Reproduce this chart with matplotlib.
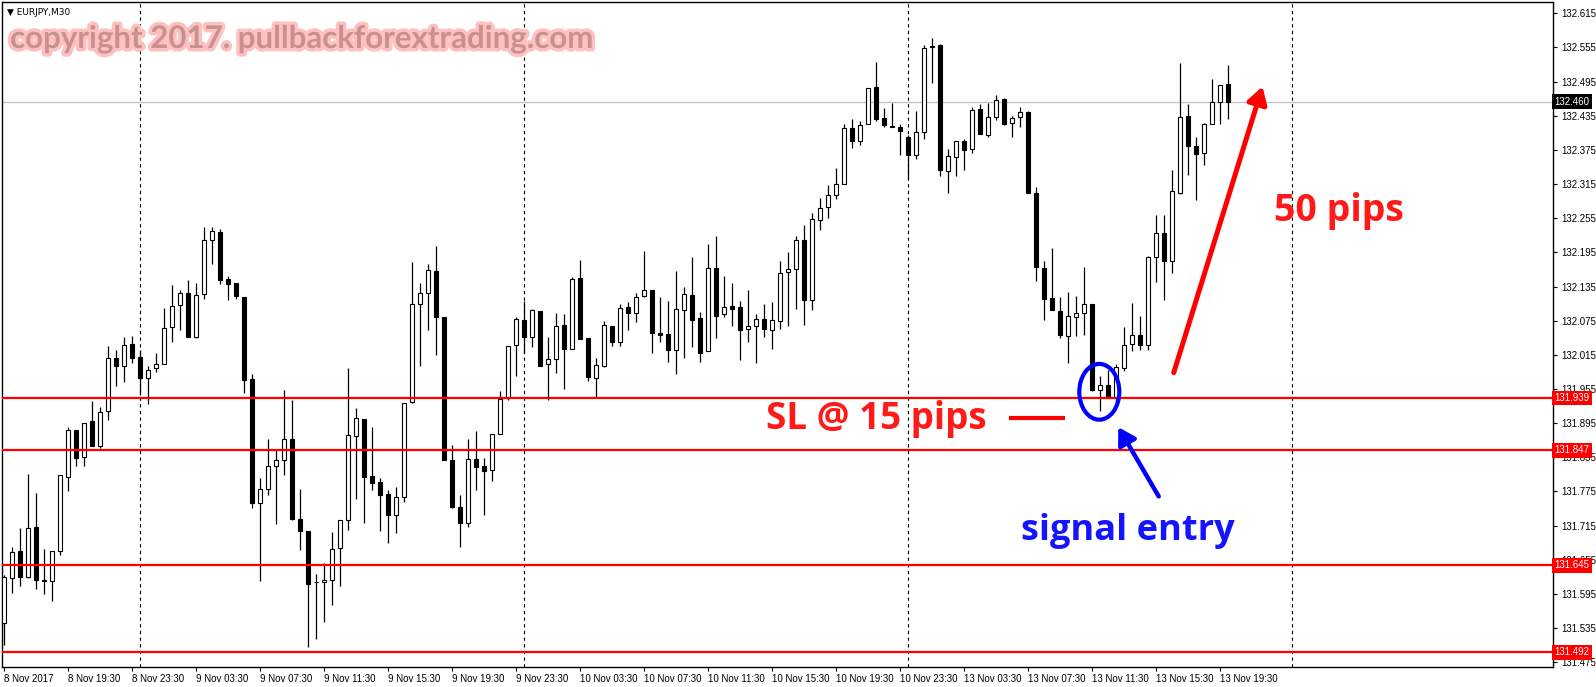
import numpy as np
import matplotlib
matplotlib.use("Agg")
import matplotlib.pyplot as plt
from matplotlib import patheffects as pe
from matplotlib.patches import Ellipse

# EURJPY M30 candles, 8 Nov 2017 15:30 -> 13 Nov 2017 20:00
opens = [131.544, 131.622, 131.670, 131.624, 131.712, 131.620, 131.618, 131.671, 131.801, 131.883,
         131.835, 131.898, 131.854, 131.916, 132.009, 131.996, 132.034, 132.011, 131.975, 131.991,
         131.998, 132.063, 132.102, 132.124, 132.046, 132.122, 132.216, 132.231, 132.148, 132.141,
         132.116, 131.973, 131.754, 131.780, 131.819, 131.830, 131.867, 131.727, 131.706, 131.615,
         131.616, 131.619, 131.675, 131.724, 131.872, 131.902, 131.802, 131.791, 131.770, 131.733,
         131.766, 131.932, 132.104, 132.124, 132.163, 132.082, 131.831, 131.747, 131.719, 131.832,
         131.819, 131.813, 131.876, 131.939, 132.032, 132.076, 132.047, 132.092, 131.998, 132.008,
         132.067, 132.026, 132.150, 132.045, 131.975, 131.996, 132.066, 132.038, 132.099, 132.088,
         132.118, 132.128, 132.053, 132.052, 132.024, 132.093, 132.120, 132.080, 132.021, 132.168,
         132.086, 132.101, 132.099, 132.060, 132.066, 132.078, 132.058, 132.074, 132.161, 132.166,
         132.216, 132.111, 132.252, 132.275, 132.296, 132.315, 132.414, 132.391, 132.421, 132.486,
         132.431, 132.417, 132.416, 132.398, 132.366, 132.407, 132.558, 132.559, 132.338, 132.363,
         132.391, 132.377, 132.446, 132.401, 132.433, 132.464, 132.422, 132.433, 132.442, 132.300,
         132.168, 132.115, 132.092, 132.048, 132.082, 132.089, 132.105, 131.953, 131.962, 131.939,
         131.992, 132.034, 132.050, 132.032, 132.186, 132.229, 132.180, 132.299, 132.434, 132.381,
         132.369, 132.420, 132.460, 132.490]
highs = [131.628, 131.678, 131.711, 131.805, 131.772, 131.674, 131.671, 131.803, 131.889, 131.883,
         131.895, 131.933, 131.924, 132.031, 132.023, 132.047, 132.048, 132.023, 131.995, 132.019,
         132.098, 132.137, 132.129, 132.147, 132.141, 132.239, 132.239, 132.236, 132.154, 132.141,
         132.116, 131.982, 131.798, 131.867, 131.848, 131.954, 131.935, 131.779, 131.706, 131.630,
         131.650, 131.703, 131.724, 131.991, 131.922, 131.902, 131.889, 131.798, 131.777, 131.783,
         131.931, 132.178, 132.141, 132.175, 132.206, 132.082, 131.856, 131.768, 131.867, 131.882,
         131.834, 131.876, 131.952, 132.030, 132.082, 132.109, 132.096, 132.092, 132.047, 132.089,
         132.087, 132.152, 132.181, 132.045, 132.009, 132.075, 132.066, 132.105, 132.108, 132.124,
         132.197, 132.128, 132.117, 132.110, 132.163, 132.134, 132.186, 132.090, 132.209, 132.223,
         132.154, 132.142, 132.110, 132.128, 132.087, 132.105, 132.108, 132.180, 132.195, 132.223,
         132.243, 132.265, 132.290, 132.313, 132.344, 132.420, 132.430, 132.425, 132.484, 132.529,
         132.449, 132.458, 132.421, 132.401, 132.444, 132.559, 132.571, 132.561, 132.376, 132.391,
         132.395, 132.451, 132.456, 132.458, 132.471, 132.467, 132.435, 132.451, 132.444, 132.309,
         132.179, 132.202, 132.117, 132.126, 132.119, 132.169, 132.105, 131.978, 131.988, 131.998,
         132.064, 132.106, 132.084, 132.188, 132.260, 132.260, 132.340, 132.527, 132.456, 132.398,
         132.422, 132.499, 132.489, 132.524]
lows = [131.506, 131.596, 131.608, 131.622, 131.603, 131.594, 131.582, 131.664, 131.775, 131.819,
        131.819, 131.854, 131.851, 131.901, 131.961, 131.967, 132.001, 131.945, 131.929, 131.985,
        131.998, 132.038, 132.059, 132.047, 132.044, 132.113, 132.174, 132.139, 132.111, 132.113,
        131.948, 131.746, 131.618, 131.769, 131.718, 131.804, 131.724, 131.672, 131.501, 131.515,
        131.545, 131.575, 131.608, 131.707, 131.762, 131.720, 131.778, 131.706, 131.684, 131.702,
        131.757, 131.930, 131.996, 132.058, 132.015, 131.830, 131.746, 131.677, 131.712, 131.778,
        131.734, 131.793, 131.876, 131.935, 131.978, 132.019, 132.029, 131.996, 131.935, 131.983,
        131.955, 132.026, 132.043, 131.969, 131.941, 131.994, 132.031, 132.031, 132.059, 132.072,
        132.116, 132.019, 132.038, 132.002, 131.981, 132.010, 132.029, 132.002, 132.021, 132.045,
        132.082, 132.066, 132.006, 132.038, 132.001, 132.047, 132.026, 132.061, 132.065, 132.096,
        132.068, 132.093, 132.235, 132.256, 132.288, 132.315, 132.378, 132.383, 132.421, 132.425,
        132.415, 132.415, 132.366, 132.324, 132.359, 132.395, 132.492, 132.330, 132.299, 132.330,
        132.339, 132.370, 132.403, 132.398, 132.427, 132.418, 132.397, 132.416, 132.299, 132.144,
        132.076, 132.094, 132.045, 132.000, 132.048, 132.049, 131.951, 131.916, 131.939, 131.932,
        131.986, 132.021, 132.024, 132.024, 132.143, 132.112, 132.159, 132.297, 132.331, 132.287,
        132.348, 132.420, 132.421, 132.429]
closes = [131.624, 131.668, 131.624, 131.710, 131.619, 131.618, 131.671, 131.803, 131.883, 131.833,
          131.895, 131.854, 131.915, 132.009, 131.996, 132.032, 132.010, 131.974, 131.989, 131.998,
          132.062, 132.101, 132.124, 132.047, 132.120, 132.217, 132.233, 132.147, 132.139, 132.118,
          131.971, 131.754, 131.780, 131.819, 131.830, 131.867, 131.727, 131.706, 131.612, 131.615,
          131.620, 131.674, 131.724, 131.874, 131.904, 131.801, 131.789, 131.768, 131.734, 131.766,
          131.931, 132.104, 132.124, 132.164, 132.082, 131.830, 131.747, 131.719, 131.832, 131.818,
          131.811, 131.876, 131.938, 132.030, 132.078, 132.047, 132.094, 131.996, 132.007, 132.065,
          132.026, 132.149, 132.043, 131.976, 131.997, 132.067, 132.038, 132.097, 132.088, 132.116,
          132.129, 132.054, 132.049, 132.024, 132.095, 132.122, 132.077, 132.019, 132.168, 132.084,
          132.099, 132.096, 132.058, 132.065, 132.078, 132.060, 132.076, 132.159, 132.166, 132.216,
          132.111, 132.254, 132.273, 132.296, 132.315, 132.414, 132.390, 132.419, 132.484, 132.429,
          132.418, 132.415, 132.408, 132.366, 132.407, 132.554, 132.556, 132.339, 132.364, 132.391,
          132.374, 132.445, 132.403, 132.433, 132.463, 132.420, 132.431, 132.442, 132.299, 132.169,
          132.113, 132.094, 132.049, 132.083, 132.088, 132.105, 131.953, 131.962, 131.939, 131.994,
          132.032, 132.050, 132.032, 132.186, 132.229, 132.180, 132.302, 132.432, 132.382, 132.367,
          132.420, 132.460, 132.489, 132.459]

time_labels = ["8 Nov 2017", "8 Nov 19:30", "8 Nov 23:30", "9 Nov 03:30", "9 Nov 07:30",
               "9 Nov 11:30", "9 Nov 15:30", "9 Nov 19:30", "9 Nov 23:30", "10 Nov 03:30",
               "10 Nov 07:30", "10 Nov 11:30", "10 Nov 15:30", "10 Nov 19:30", "10 Nov 23:30",
               "13 Nov 03:30", "13 Nov 07:30", "13 Nov 11:30", "13 Nov 15:30", "13 Nov 19:30"]
day_breaks = [17, 65, 113, 161]
price_ticks = np.linspace(131.475, 132.615, 20)
sl_levels = [131.939, 131.847, 131.645, 131.492]
last_price = 132.460

o = np.array(opens)
h = np.array(highs)
l = np.array(lows)
c = np.array(closes)
x = np.arange(len(o))

fig = plt.figure(figsize=(15.96, 6.87), dpi=100)
ax = fig.add_axes([0.00144, 0.0291, 0.9716, 0.9673])
ax.set_xlim(-0.21, 193.6)
ax.set_ylim(131.4665, 132.634)

# grid: day separators + last price line
for d in day_breaks:
    ax.axvline(d, color="black", lw=0.8, ls=(0, (3, 3)), zorder=1)
ax.axhline(last_price, color="#c0c0c0", lw=0.9, zorder=1)

# candles
bull = c >= o
ax.vlines(x, l, h, color="black", lw=0.9, zorder=2)
ax.bar(x, np.abs(c - o), bottom=np.minimum(o, c), width=0.52,
       color=np.where(bull, "white", "black"), edgecolor="black", linewidth=0.8, zorder=3)

for lvl in sl_levels:
    ax.axhline(lvl, color="red", lw=1.6, zorder=4)

# axes / ticks
ax.yaxis.tick_right()
ax.set_yticks(price_ticks)
ax.set_yticklabels([f"{v:.3f}" for v in price_ticks])
ax.tick_params(axis="y", direction="out", length=3, labelsize=7, pad=3)
ax.set_xticks(np.arange(0, len(o), 8))
ax.set_xticklabels(time_labels)
for lbl in ax.get_xticklabels():
    lbl.set_ha("left")
ax.tick_params(axis="x", direction="out", length=3, labelsize=7, pad=2)
for lbl in ax.get_xticklabels() + ax.get_yticklabels():
    lbl.set_family("Liberation Sans")
for sp in ax.spines.values():
    sp.set_linewidth(1)

# price tags on the right scale
ytr = ax.get_yaxis_transform()
for lvl in sl_levels:
    ax.text(1.001, lvl, f"{lvl:.3f}", transform=ytr, ha="left", va="center", fontsize=7,
            family="Liberation Sans", color="white", zorder=6,
            bbox=dict(boxstyle="square,pad=0.25", fc="red", ec="none"))
ax.text(1.001, last_price, f"{last_price:.3f}", transform=ytr, ha="left", va="center", fontsize=7,
        family="Liberation Sans", color="white", zorder=6,
        bbox=dict(boxstyle="square,pad=0.25", fc="black", ec="none"))

# header + watermark
ax.text(0.003, 0.985, "\u25bc EURJPY,M30", transform=ax.transAxes, fontsize=6.5,
        ha="left", va="center", family="DejaVu Sans")
ax.text(0.005, 0.945, "copyright 2017. pullbackforextrading.com", transform=ax.transAxes,
        fontsize=22.5, fontweight="bold", family="Lato", color="#c99090", ha="left", va="center",
        path_effects=[pe.withStroke(linewidth=5, foreground="#ffc0c0")], zorder=5)

# annotations
ax.add_patch(Ellipse((136.9, 131.950), 5.0, 0.098, fill=False, ec="#0000ff", lw=3, zorder=7))
ax.plot([125.6, 132.6], [131.904, 131.904], color="red", lw=3, solid_capstyle="butt", zorder=7)
ax.text(109.0, 131.885, "SL @ 15 pips", color="#ff1a1a", fontsize=26.5, fontweight="bold",
        family="Open Sans", ha="center", va="baseline", zorder=7)
ax.annotate("", xy=(139.1, 131.892), xytext=(144.5, 131.762),
            arrowprops=dict(arrowstyle="-|>,head_length=1.0,head_width=0.6", color="#0000ff", lw=3.2),
            zorder=7)
ax.text(140.4, 131.690, "signal entry", color="#1414ff", fontsize=26, fontweight="bold",
        family="Open Sans", ha="center", va="baseline", zorder=7)
ax.annotate("", xy=(157.4, 132.491), xytext=(146.1, 131.979),
            arrowprops=dict(arrowstyle="-|>,head_length=1.0,head_width=0.6", color="red", lw=3.6),
            zorder=7)
ax.text(166.8, 132.250, "50 pips", color="#ff1a1a", fontsize=27, fontweight="bold",
        family="Open Sans", ha="center", va="baseline", zorder=7)

fig.savefig("out.png", dpi=100)
